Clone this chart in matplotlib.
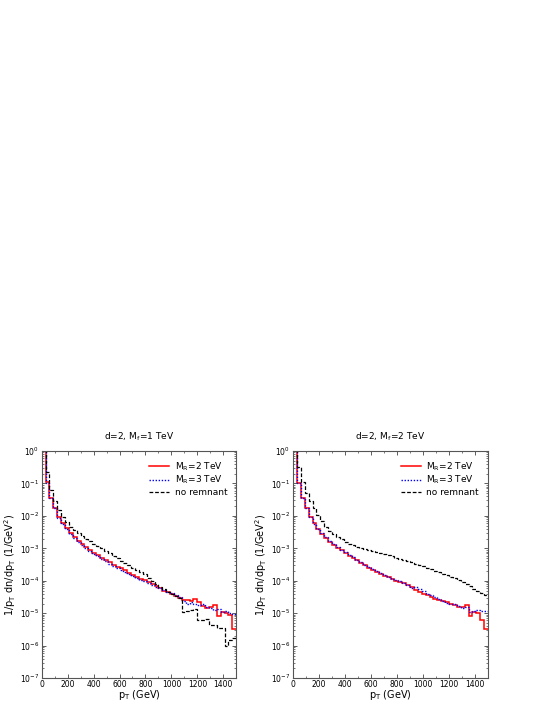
import matplotlib
matplotlib.use("Agg")
import matplotlib.pyplot as plt
import numpy as np
from matplotlib.ticker import LogLocator, MultipleLocator, NullFormatter, FixedLocator

plt.rcParams["font.family"] = "DejaVu Sans"
plt.rcParams["mathtext.default"] = "regular"

# 30 GeV bins from 0 to 1500 GeV
edges = np.arange(0, 1501, 30)
ydecades = [1e-7, 1e-6, 1e-5, 1e-4, 1e-3, 1e-2, 1e-1, 1e0]

# log10 of 1/pT dn/dpT (first bin is off the top)
# left: d=2, Mf=1 TeV
left_red = [1.0, -0.97, -1.45, -1.75, -2.03, -2.22, -2.38, -2.52, -2.65, -2.77,
            -2.88, -2.97, -3.05, -3.13, -3.21, -3.29, -3.36, -3.43, -3.50, -3.56,
            -3.62, -3.68, -3.75, -3.82, -3.88, -3.93, -3.98, -4.05, -4.10, -4.17,
            -4.22, -4.30, -4.35, -4.40, -4.48, -4.53, -4.58, -4.58, -4.62, -4.57,
            -4.65, -4.78, -4.83, -4.82, -4.74, -5.07, -4.96, -4.98, -5.05, -5.47]
left_blue = [1.0, -0.99, -1.45, -1.77, -2.05, -2.25, -2.41, -2.55, -2.68, -2.80,
             -2.91, -3.00, -3.09, -3.17, -3.25, -3.33, -3.40, -3.47, -3.54, -3.60,
             -3.67, -3.73, -3.80, -3.86, -3.91, -3.96, -4.01, -4.06, -4.12, -4.18,
             -4.22, -4.28, -4.34, -4.39, -4.44, -4.50, -4.62, -4.70, -4.66, -4.72,
             -4.75, -4.72, -4.80, -4.85, -4.90, -4.88, -4.95, -4.93, -4.98, -5.02]
left_black = [1.0, -0.66, -1.19, -1.55, -1.83, -2.03, -2.20, -2.33, -2.43, -2.52,
              -2.61, -2.70, -2.78, -2.86, -2.93, -3.00, -3.08, -3.15, -3.23, -3.30,
              -3.38, -3.45, -3.52, -3.59, -3.66, -3.73, -3.80, -3.92, -4.02, -4.10,
              -4.18, -4.26, -4.34, -4.42, -4.48, -4.53, -4.96, -4.93, -4.90, -4.88,
              -5.22, -5.20, -5.18, -5.37, -5.37, -5.45, -5.45, -6.02, -5.83, -5.77]

# right: d=2, Mf=2 TeV
right_red = [1.0, -1.00, -1.45, -1.75, -2.03, -2.22, -2.40, -2.55, -2.68, -2.80,
             -2.90, -2.98, -3.06, -3.14, -3.22, -3.30, -3.37, -3.45, -3.52, -3.60,
             -3.66, -3.72, -3.78, -3.84, -3.89, -3.94, -3.99, -4.03, -4.08, -4.14,
             -4.20, -4.28, -4.33, -4.40, -4.45, -4.50, -4.55, -4.60, -4.62, -4.65,
             -4.70, -4.75, -4.80, -4.82, -4.74, -5.07, -4.96, -4.98, -5.20, -5.47]
right_blue = [1.0, -1.00, -1.45, -1.76, -2.04, -2.24, -2.40, -2.54, -2.66, -2.78,
              -2.88, -2.96, -3.04, -3.12, -3.20, -3.28, -3.35, -3.42, -3.50, -3.57,
              -3.63, -3.70, -3.76, -3.82, -3.87, -3.93, -3.98, -4.02, -4.06, -4.12,
              -4.22, -4.20, -4.25, -4.30, -4.40, -4.45, -4.50, -4.55, -4.62, -4.68,
              -4.70, -4.72, -4.78, -4.83, -4.80, -4.95, -4.92, -4.90, -4.92, -4.93]
right_black = [1.0, -0.48, -0.95, -1.29, -1.55, -1.75, -1.96, -2.16, -2.33, -2.45,
               -2.56, -2.65, -2.72, -2.80, -2.85, -2.90, -2.95, -2.99, -3.02, -3.05,
               -3.08, -3.11, -3.14, -3.17, -3.21, -3.25, -3.29, -3.32, -3.35, -3.39,
               -3.43, -3.47, -3.51, -3.55, -3.60, -3.64, -3.69, -3.74, -3.78, -3.83,
               -3.88, -3.92, -3.98, -4.04, -4.10, -4.16, -4.24, -4.32, -4.38, -4.43]

titles = [r"d=2, M$_f$=1 TeV", r"d=2, M$_f$=2 TeV"]
labels = [r"M$_R$=2 TeV", r"M$_R$=3 TeV", "no remnant"]

fig = plt.figure(figsize=(5.45, 7.05), dpi=100)
ax1 = fig.add_axes([0.0765, 0.038, 0.357, 0.3223])
ax2 = fig.add_axes([0.5376, 0.038, 0.358, 0.3223])

panels = [(ax1, left_red, left_blue, left_black),
          (ax2, right_red, right_blue, right_black)]

for i, (ax, r, b, k) in enumerate(panels):
    ax.stairs(10**np.array(r), edges, baseline=None, color="red", lw=1.1, label=labels[0])
    ax.stairs(10**np.array(b), edges, baseline=None, color="blue", lw=1.0,
              ls=(0, (1, 1.2)), label=labels[1])
    ax.stairs(10**np.array(k), edges, baseline=None, color="black", lw=0.9,
              ls=(0, (3, 1.5)), label=labels[2])

    ax.set_yscale("log")
    ax.set_xlim(0, 1500)
    ax.set_ylim(1e-7, 1)
    ax.xaxis.set_major_locator(FixedLocator(np.arange(0, 1401, 200)))
    ax.xaxis.set_minor_locator(FixedLocator(np.arange(100, 1500, 100)))
    ax.yaxis.set_major_locator(FixedLocator(ydecades))
    ax.yaxis.set_minor_locator(LogLocator(base=10, subs=np.arange(2, 10), numticks=10))
    ax.yaxis.set_minor_formatter(NullFormatter())
    ax.tick_params(which="both", direction="in", top=True, right=True, labelsize=5.5,
                   color="#444444", pad=2)
    ax.tick_params(axis="x", which="both", pad=1.5)
    ax.tick_params(which="major", length=3, width=0.6)
    ax.tick_params(which="minor", length=1.5, width=0.5)
    for s in ax.spines.values():
        s.set_linewidth(0.8)
        s.set_color("#555555")

    ax.set_title(titles[i], fontsize=6.5, pad=8)
    ax.set_xlabel(r"p$_T$ (GeV)", fontsize=7, labelpad=-1)
    ax.set_ylabel(r"1/p$_T$ dn/dp$_T$ (1/GeV$^2$)", fontsize=7, labelpad=1)
    ax.legend(loc="upper right", frameon=False, fontsize=6.5, handlelength=2.2,
              handletextpad=0.6, labelspacing=0.15, borderaxespad=0.6)

fig.savefig("out.png", dpi=100)
